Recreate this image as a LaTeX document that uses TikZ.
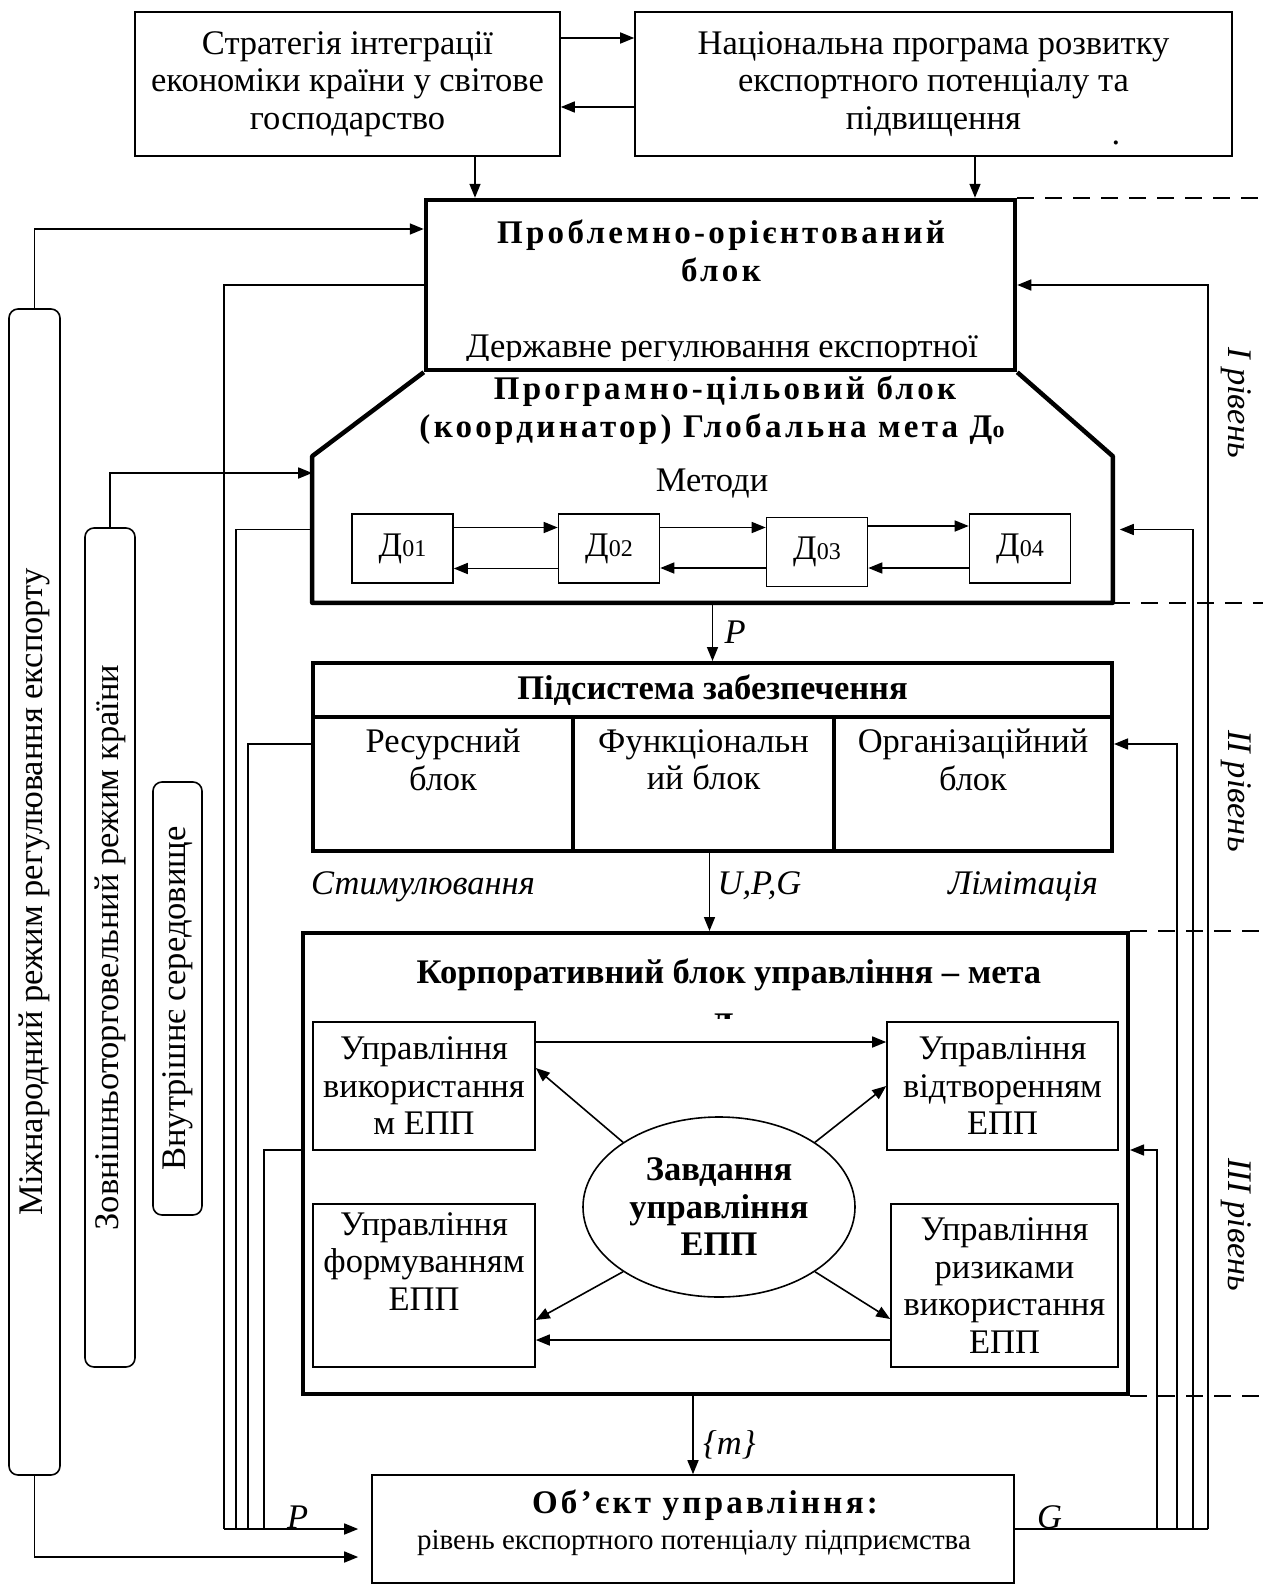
\documentclass[tikz,border=0pt]{standalone}
\usepackage{fontspec}
\setmainfont{Liberation Serif}
\newfontfamily\spacedfont[LetterSpace=10]{Liberation Serif}
\usepackage{tikz}
\usetikzlibrary{arrows.meta,positioning,shapes.geometric}

\newcommand{\txtsize}{\fontsize{34.5}{37.5}\selectfont}
\newcommand{\boldtxt}{\fontsize{34.5}{37.5}\selectfont\bfseries}
\newcommand{\spacedbold}{\spacedfont\fontsize{33}{38}\selectfont\bfseries}
\newcommand{\smalltxt}{\fontsize{29}{32}\selectfont}
\newcommand{\dsub}{\fontsize{24}{24}\selectfont}

\begin{document}
\begin{tikzpicture}[x=1pt, y=-1pt, line width=1.6pt,
    >={Triangle[length=14pt,width=11pt]},
    box/.style={rectangle, draw, line width=1.6pt, inner sep=0pt, align=center, font=\txtsize},
    thickbox/.style={box, line width=4.5pt},
    dbox/.style={box, minimum width=101pt, minimum height=69pt},
    bar/.style={rectangle, draw, rounded corners=9pt, line width=1.6pt, inner sep=0pt},
    bartext/.style={rotate=90, font=\txtsize},
    lbl/.style={font=\txtsize\itshape},
    lvl/.style={rotate=-90, font=\txtsize\itshape},
    tierline/.style={dash pattern=on 17pt off 11pt}]
    \useasboundingbox (0,0) rectangle (1263,1584);

    % top programmes
    \node[box, minimum width=425pt, minimum height=144pt] (strat) at (347.5,84) {Стратегія інтеграції\\економіки країни у світове\\господарство};
    \node[box, minimum width=597pt, minimum height=144pt] (natprog) at (933.5,84) {Національна програма розвитку\\експортного потенціалу та\\підвищення};
    \node[font=\txtsize, inner sep=0pt] (dot) at (1116,143) {.};

    % level I
    \node[thickbox, minimum width=589pt, minimum height=170pt] (pob) at (720.5,285) {};
    \node[font=\spacedbold, align=center] (pob-t) at (721,251) {Проблемно-орієнтований\\блок};
    \begin{scope}
        \clip (426,200) rectangle (1015,360);
        \node[font=\txtsize, anchor=base] (pob-b) at (722,357) {Державне регулювання експортної};
    \end{scope}

    \node[minimum width=799pt, minimum height=145pt, inner sep=0pt] (pcb) at (712.5,529.5) {};
    \draw[line width=4.5pt, line join=round] (pob.south west) -- (pcb.north west) -- (pcb.south west)
        -- (pcb.south east) -- (pcb.north east) -- (pob.south east);
    \node[font=\spacedbold, align=center] (pcb-t) at (712,410) {\hspace*{26pt}Програмно-цільовий блок\\(координатор) Глобальна мета Д{\dsub о}};
    \node[font=\txtsize] (methods) at (712,484) {Методи};

    \node[dbox] (d1) at (402.5,548.5) {Д{\dsub 01}};
    \node[dbox] (d2) at (609,548.5) {Д{\dsub 02}};
    \node[dbox] (d3) at (817,552) {Д{\dsub 03}};
    \node[dbox] (d4) at (1020,548.5) {Д{\dsub 04}};

    \draw[->] ([yshift=21pt]d1.east) -- ([yshift=21pt]d1.east -| d2.west);
    \draw[->] ([yshift=-20pt]d2.west) -- ([yshift=-20pt]d2.west -| d1.east);
    \draw[->] ([yshift=21pt]d2.east) -- ([yshift=21pt]d2.east -| d3.west);
    \draw[->] ([yshift=-16pt]d3.west) -- ([yshift=-16pt]d3.west -| d2.east);
    \draw[->] ([yshift=26pt]d3.east) -- ([yshift=26pt]d3.east -| d4.west);
    \draw[->] ([yshift=-19.5pt]d4.west) -- ([yshift=-19.5pt]d4.west -| d3.east);

    % level II
    \node[box, line width=4pt, minimum width=799pt, minimum height=54pt, font=\boldtxt] (subh) at (712.5,690) {Підсистема забезпечення};
    \node[box, line width=4pt, minimum width=260pt, minimum height=134pt] (res) at (443,784) {Ресурсний\\блок\\\strut};
    \node[box, line width=4pt, minimum width=261pt, minimum height=134pt] (fun) at (703.5,784) {Функціональн\\ий блок\\\strut};
    \node[box, line width=4pt, minimum width=278pt, minimum height=134pt] (org) at (973,784) {Організаційний\\блок\\\strut};

    \node[lbl] (stim) at (423,887) {Стимулювання};
    \node[lbl] (limit) at (1023,887) {Лімітація};

    % level III
    \node[box, line width=4pt, minimum width=825pt, minimum height=461pt] (korp) at (715.5,1163.5) {};
    \node[font=\boldtxt] (korp-t) at (729,975) {Корпоративний блок управління – мета};
    \begin{scope}
        \clip (303,990) rectangle (1128,1018);
        \node[font=\boldtxt, anchor=base] (korp-d) at (722,1036) {Д};
    \end{scope}

    \node[box, minimum width=222pt, minimum height=128pt] (ub) at (424,1086) {Управління\\використання\\м ЕПП};
    \node[box, minimum width=231pt, minimum height=128pt] (vid) at (1002.5,1086) {Управління\\відтворенням\\ЕПП};
    \node[box, minimum width=222pt, minimum height=163pt] (form) at (424,1285.5) {Управління\\формуванням\\ЕПП\\\strut};
    \node[box, minimum width=227pt, minimum height=163pt] (ryz) at (1004.5,1285.5) {Управління\\ризиками\\використання\\ЕПП};
    \node[ellipse, draw, minimum width=272pt, minimum height=180pt, inner sep=0pt, align=center, font=\boldtxt] (zav) at (719,1207) {Завдання\\управління\\ЕПП};

    \draw[->] ([yshift=44pt]ub.east) -- ([yshift=44pt]ub.east -| vid.west);
    \draw[->] ([yshift=-54.5pt]ryz.west) -- ([yshift=-54.5pt]ryz.west -| form.east);
    \draw[->] (zav.146) -- ([yshift=18pt]ub.east);
    \draw[->] (zav.34) -- (vid.west);
    \draw[->] (zav.214) -- ([yshift=-34.5pt]form.east);
    \draw[->] (zav.326) -- ([yshift=-33.5pt]ryz.west);

    % object
    \node[box, minimum width=642pt, minimum height=108pt] (obj) at (693,1529) {};
    \node[font=\spacedbold] (obj-t) at (705,1505) {Об’єкт управління:};
    \node[font=\smalltxt] (obj-s) at (694,1543) {рівень експортного потенціалу підприємства};

    % environment bars
    \node[bar, minimum width=51pt, minimum height=1166pt] (mizh) at (34.5,892) {};
    \node[bartext] (mizh-t) at (mizh.center) {Міжнародний режим регулювання експорту};
    \node[bar, minimum width=50pt, minimum height=839pt] (zov) at (110,947.5) {};
    \node[bartext] (zov-t) at (zov.center) {Зовнішньоторговельний режим країни};
    \node[bar, minimum width=49pt, minimum height=433pt] (vnu) at (177.5,998.5) {};
    \node[bartext] (vnu-t) at (vnu.center) {Внутрішнє середовище};

    % direct links
    \draw[->] ([yshift=46pt]strat.east) -- ([yshift=46pt]strat.east -| natprog.west);
    \draw[->] ([yshift=-23pt]natprog.west) -- ([yshift=-23pt]natprog.west -| strat.east);
    \draw[->] ([xshift=127.5pt]strat.south) -- ([xshift=127.5pt]strat.south |- pob.north);
    \draw[->] ([xshift=41.5pt]natprog.south) -- ([xshift=41.5pt]natprog.south |- pob.north);
    \draw[->] (mizh.north) |- ([yshift=56pt]pob.west);
    \draw[->] (zov.north) |- ([yshift=56.5pt]pcb.west);
    \draw[->] (pcb.south) -- (subh.north) node[lbl, midway, right=8pt] (p-lbl) {P};
    \draw[->] ([xshift=6pt]fun.south) -- ([xshift=6pt]fun.south |- korp.north) node[lbl, midway, right=4pt, yshift=6pt] (upg-lbl) {U,P,G};
    \draw[->] (obj.north |- korp.south) -- (obj.north) node[lbl, midway, right=6pt, yshift=-10pt] (m-lbl) {\{m\}};

    % feedback buses
    \coordinate (bus1) at (224,1529);
    \coordinate (bus2) at (236,1529);
    \coordinate (bus3) at (248,1529);
    \coordinate (bus4) at (264,1529);
    \draw (pob.west) -| (bus1);
    \draw (pcb.west) -| (bus2);
    \draw ([yshift=40pt]res.west) -| (bus3);
    \draw ([yshift=13.5pt]korp.west) -| (bus4);
    \draw[->, shorten >=13pt] (bus1) -- (obj.west) node[lbl, pos=0.5, above=-4pt] (p2-lbl) {P};
    \draw[->, shorten >=13pt] (mizh.south) |- ([yshift=-28pt]obj.west);

    \coordinate (gbus1) at (1157,1529);
    \coordinate (gbus2) at (1177,1529);
    \coordinate (gbus3) at (1193,1529);
    \coordinate (gbus4) at (1208,1529);
    \draw (obj.east) -- (gbus4) node[lbl, pos=0.18, above=-4pt] (g-lbl) {G};
    \draw[->] (gbus1) |- ([yshift=13.5pt]korp.east);
    \draw[->] (gbus2) |- ([yshift=40pt]org.east);
    \draw[->, shorten >=7pt] (gbus3) |- (pcb.east);
    \draw[->] (gbus4) |- (pob.east);

    % levels
    \coordinate (rim) at (1263,0);
    \draw[tierline] (pob.north east) -- (pob.north east -| rim);
    \draw[tierline] (pcb.south east) -- (pcb.south east -| rim);
    \draw[tierline] (korp.north east) -- (korp.north east -| rim);
    \draw[tierline] (korp.south east) -- (korp.south east -| rim);
    \node[lvl] (lvl1) at (1236,403) {І рівень};
    \node[lvl] (lvl2) at (1236,791) {ІІ рівень};
    \node[lvl] (lvl3) at (1236,1225) {ІІІ рівень};
\end{tikzpicture}
\end{document}
